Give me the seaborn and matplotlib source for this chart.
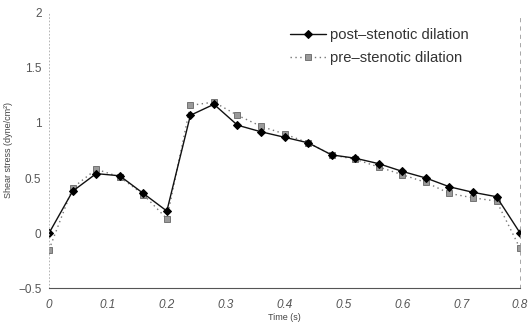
import numpy as np
import pandas as pd
import matplotlib
matplotlib.use("Agg")
import matplotlib.pyplot as plt
import seaborn as sns

# Time points (s)
time = [0.00, 0.04, 0.08, 0.12, 0.16, 0.20, 0.24, 0.28, 0.32, 0.36, 0.40,
        0.44, 0.48, 0.52, 0.56, 0.60, 0.64, 0.68, 0.72, 0.76, 0.80]

# Shear stress values
post_stenotic = [0.00, 0.38, 0.54, 0.52, 0.36, 0.20, 1.07, 1.17, 0.98, 0.92, 0.87,
                 0.82, 0.71, 0.68, 0.63, 0.56, 0.50, 0.42, 0.37, 0.33, 0.00]
pre_stenotic = [-0.15, 0.41, 0.58, 0.51, 0.35, 0.13, 1.16, 1.19, 1.07, 0.97, 0.90,
                0.82, 0.71, 0.67, 0.60, 0.53, 0.46, 0.36, 0.32, 0.29, -0.14]

x_ticks = [0, 0.1, 0.2, 0.3, 0.4, 0.5, 0.6, 0.7, 0.8]
x_tick_labels = ["0", "0.1", "0.2", "0.3", "0.4", "0.5", "0.6", "0.7", "0.8"]
y_ticks = [-0.5, 0, 0.5, 1, 1.5, 2]
y_tick_labels = ["\u22120.5", "0", "0.5", "1", "1.5", "2"]

df = pd.DataFrame({"Time": time, "post": post_stenotic, "pre": pre_stenotic})

sns.set_style("white")
plt.rcParams["font.family"] = ["Liberation Sans", "DejaVu Sans"]

fig = plt.figure(figsize=(5.28, 3.24), dpi=100)
ax = fig.add_axes([0.093, 0.111, 0.892, 0.849])

sns.lineplot(data=df, x="Time", y="pre", ax=ax, color="#777777", linestyle=(0, (1, 2.5)),
             linewidth=1.0, marker="s", markersize=5, markerfacecolor="#9a9a9a",
             markeredgecolor="#666666", markeredgewidth=0.6, label="pre\u2013stenotic dilation")
sns.lineplot(data=df, x="Time", y="post", ax=ax, color="#111111", linestyle="-",
             linewidth=1.0, marker="D", markersize=3.6, markerfacecolor="black",
             markeredgecolor="black", label="post\u2013stenotic dilation")

ax.set_xlim(0, 0.8)
ax.set_ylim(-0.5, 2)
ax.set_xticks(x_ticks)
ax.set_xticklabels(x_tick_labels, fontstyle="italic")
ax.set_yticks(y_ticks)
ax.set_yticklabels(y_tick_labels)
ax.tick_params(axis="both", colors="#555555", labelsize=8.5, length=2, width=0.6)
ax.tick_params(axis="x", pad=8, length=0)

ax.set_xlabel("Time (s)", fontsize=6.5, color="#444444", labelpad=1)
ax.set_ylabel("Shear stress (dyne/cm\u00b2)", fontsize=6.5, color="#444444", labelpad=4)

ax.spines["top"].set_visible(False)
ax.spines["bottom"].set_color("#555555")
ax.spines["bottom"].set_linewidth(0.8)
ax.spines["left"].set_color("#aaaaaa")
ax.spines["left"].set_linestyle((0, (1, 3)))
ax.spines["left"].set_linewidth(0.6)
ax.spines["right"].set_color("#999999")
ax.spines["right"].set_linestyle((0, (4, 6)))
ax.spines["right"].set_linewidth(0.6)

handles, labels = ax.get_legend_handles_labels()
ax.legend(handles[::-1], labels[::-1], loc="upper left", bbox_to_anchor=(0.50, 0.965),
          frameon=False, fontsize=10.6, handlelength=2.4, labelcolor="#333333",
          borderaxespad=0, handletextpad=0.3, labelspacing=0.6)

fig.savefig("out.png", dpi=100)
